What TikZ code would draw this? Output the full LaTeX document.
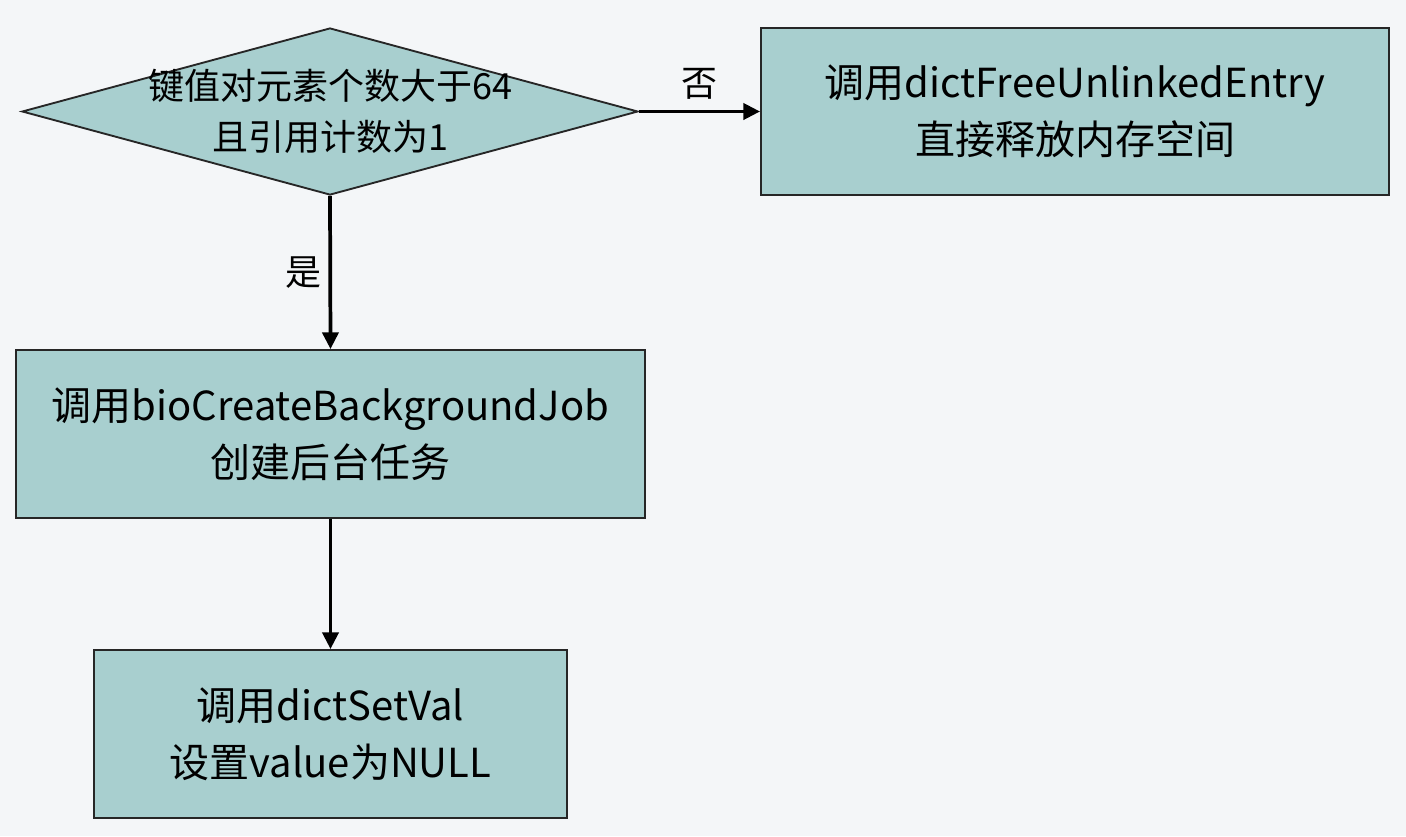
\documentclass[tikz,border=0pt]{standalone}
\usepackage{fontspec}
\setmainfont{Noto Sans CJK SC}
\usetikzlibrary{shapes.geometric,arrows.meta}
\definecolor{boxfill}{HTML}{A8CFCF}
\definecolor{bgcol}{HTML}{F4F6F8}
\tikzset{
    proc/.style={draw=black!85, line width=1.4pt, fill=boxfill, align=center,
        font=\fontsize{30}{43}\selectfont, inner sep=0pt},
    decision/.style={draw=black!85, line width=1.4pt, fill=boxfill, diamond,
        inner sep=0pt, minimum width=462pt, minimum height=125.25pt},
    arr/.style={line width=2.8pt, -{Triangle[length=12.5pt,width=12pt]}},
    lbl/.style={font=\fontsize{27}{30}\selectfont}
}
\begin{document}
\begin{tikzpicture}[x=0.75pt,y=-0.75pt]
    \fill[bgcol] (0,0) rectangle (1406,836);
    \node[decision] (cond) at (330,111.5) {};
    \node[align=center, font=\fontsize{27}{38}\selectfont] (condtext) at (cond) {键值对元素个数大于64\\且引用计数为1};
    \node[proc, minimum width=471pt, minimum height=125.25pt] (free) at (1075,111.5)
        {调用dictFreeUnlinkedEntry\\直接释放内存空间};
    \node[proc, minimum width=471.75pt, minimum height=126pt] (bio) at (330.5,434)
        {调用bioCreateBackgroundJob\\创建后台任务};
    \node[proc, minimum width=354.75pt, minimum height=126pt] (setval) at (330.5,734)
        {调用dictSetVal\\设置value为NULL};
    \draw[arr] (cond.east) -- (free.west) node[midway, above=4pt, lbl] {否};
    \draw[arr] (cond.south) -- (bio.north) node[midway, left=2pt, lbl] {是};
    \draw[arr] (bio.south) -- (setval.north);
\end{tikzpicture}
\end{document}
